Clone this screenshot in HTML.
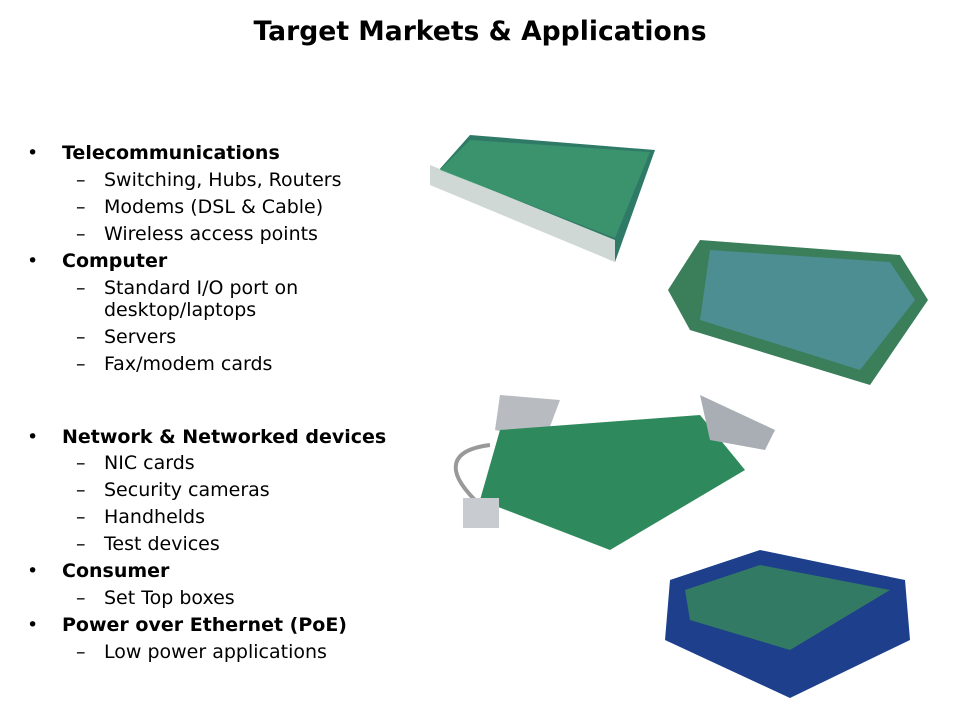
<!DOCTYPE html>
<html><head><meta charset="utf-8"><style>
body{margin:0;width:960px;height:720px;background:#fff;position:relative;overflow:hidden;font-family:"DejaVu Sans","Liberation Sans",sans-serif;color:#000}
.t{position:absolute;left:0;width:960px;top:16px;text-align:center;font-weight:bold;font-size:26.6px}
.l{position:absolute;font-size:19px;white-space:nowrap;line-height:22px}
.b{font-weight:bold}
</style></head><body>
<div class="t">Target Markets &amp; Applications</div>
<div class="l" style="left:27px;top:142px">•</div><div class="l b" style="left:62px;top:142px">Telecommunications</div>
<div class="l" style="left:76px;top:169px">–</div><div class="l" style="left:104px;top:169px">Switching, Hubs, Routers</div>
<div class="l" style="left:76px;top:196px">–</div><div class="l" style="left:104px;top:196px">Modems (DSL &amp; Cable)</div>
<div class="l" style="left:76px;top:223px">–</div><div class="l" style="left:104px;top:223px">Wireless access points</div>
<div class="l" style="left:27px;top:250px">•</div><div class="l b" style="left:62px;top:250px">Computer</div>
<div class="l" style="left:76px;top:277px">–</div><div class="l" style="left:104px;top:277px">Standard I/O port on<br>desktop/laptops</div>
<div class="l" style="left:76px;top:326px">–</div><div class="l" style="left:104px;top:326px">Servers</div>
<div class="l" style="left:76px;top:353px">–</div><div class="l" style="left:104px;top:353px">Fax/modem cards</div>
<div class="l" style="left:27px;top:426px">•</div><div class="l b" style="left:62px;top:426px">Network &amp; Networked devices</div>
<div class="l" style="left:76px;top:452px">–</div><div class="l" style="left:104px;top:452px">NIC cards</div>
<div class="l" style="left:76px;top:479px">–</div><div class="l" style="left:104px;top:479px">Security cameras</div>
<div class="l" style="left:76px;top:506px">–</div><div class="l" style="left:104px;top:506px">Handhelds</div>
<div class="l" style="left:76px;top:533px">–</div><div class="l" style="left:104px;top:533px">Test devices</div>
<div class="l" style="left:27px;top:560px">•</div><div class="l b" style="left:62px;top:560px">Consumer</div>
<div class="l" style="left:76px;top:587px">–</div><div class="l" style="left:104px;top:587px">Set Top boxes</div>
<div class="l" style="left:27px;top:614px">•</div><div class="l b" style="left:62px;top:614px">Power over Ethernet (PoE)</div>
<div class="l" style="left:76px;top:641px">–</div><div class="l" style="left:104px;top:641px">Low power applications</div>
<svg width="960" height="720" style="position:absolute;left:0;top:0">
<polygon points="470,135 655,150 615,262 430,180" fill="#2f7a66"/>
<polygon points="430,165 615,240 615,262 430,185" fill="#cfd8d4"/>
<polygon points="470,140 650,152 615,238 440,170" fill="#3f9a70" opacity=".8"/>
<polygon points="700,240 900,255 928,300 870,385 690,330 668,290" fill="#3a7e5a"/>
<polygon points="710,250 890,262 915,300 860,370 700,320" fill="#5a9ab8" opacity=".6"/>
<polygon points="500,395 560,400 545,440 495,430" fill="#b8bcc0"/>
<polygon points="500,430 700,415 745,470 610,550 480,500" fill="#2e8a5c"/>
<polygon points="700,395 775,430 765,450 710,440" fill="#a8aeb4"/>
<path d="M490,445 C450,450 445,470 475,500" stroke="#999" stroke-width="4" fill="none"/>
<rect x="463" y="498" width="36" height="30" fill="#c8ccd0"/>
<polygon points="670,580 760,550 905,580 910,640 790,698 665,640" fill="#1d3f8c"/>
<polygon points="685,590 760,565 890,590 790,650 690,620" fill="#3a8a5a" opacity=".8"/>
</svg>
</body></html>
